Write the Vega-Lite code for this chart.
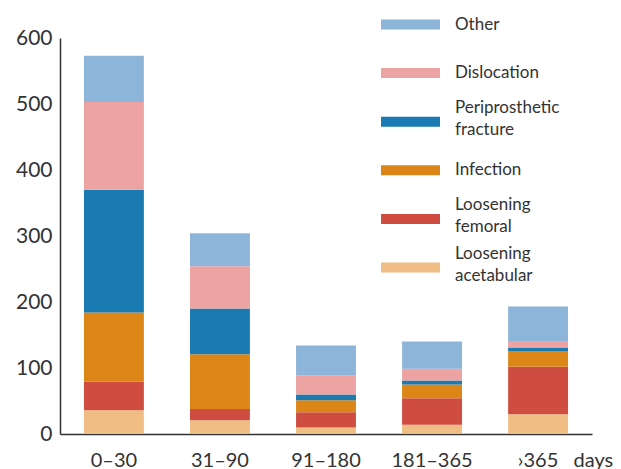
{
  "$schema": "https://vega.github.io/schema/vega-lite/v6.json",
  "width": 532,
  "height": 396,
  "autosize": {"type": "none"},
  "padding": {"left": 60, "top": 38, "right": 29, "bottom": 35},
  "background": "white",
  "config": {
    "view": {"stroke": null},
    "font": "Lato"
  },
  "data": {
    "values": [
      {"period": "0–30", "cause": "Loosening acetabular", "k": 1, "n": 36},
      {"period": "0–30", "cause": "Loosening femoral", "k": 2, "n": 43},
      {"period": "0–30", "cause": "Infection", "k": 3, "n": 105},
      {"period": "0–30", "cause": "Periprosthetic fracture", "k": 4, "n": 186},
      {"period": "0–30", "cause": "Dislocation", "k": 5, "n": 133},
      {"period": "0–30", "cause": "Other", "k": 6, "n": 70},
      {"period": "31–90", "cause": "Loosening acetabular", "k": 1, "n": 21},
      {"period": "31–90", "cause": "Loosening femoral", "k": 2, "n": 17},
      {"period": "31–90", "cause": "Infection", "k": 3, "n": 83},
      {"period": "31–90", "cause": "Periprosthetic fracture", "k": 4, "n": 69},
      {"period": "31–90", "cause": "Dislocation", "k": 5, "n": 64},
      {"period": "31–90", "cause": "Other", "k": 6, "n": 50},
      {"period": "91–180", "cause": "Loosening acetabular", "k": 1, "n": 10},
      {"period": "91–180", "cause": "Loosening femoral", "k": 2, "n": 23},
      {"period": "91–180", "cause": "Infection", "k": 3, "n": 18},
      {"period": "91–180", "cause": "Periprosthetic fracture", "k": 4, "n": 9},
      {"period": "91–180", "cause": "Dislocation", "k": 5, "n": 29},
      {"period": "91–180", "cause": "Other", "k": 6, "n": 45},
      {"period": "181–365", "cause": "Loosening acetabular", "k": 1, "n": 14},
      {"period": "181–365", "cause": "Loosening femoral", "k": 2, "n": 40},
      {"period": "181–365", "cause": "Infection", "k": 3, "n": 21},
      {"period": "181–365", "cause": "Periprosthetic fracture", "k": 4, "n": 6},
      {"period": "181–365", "cause": "Dislocation", "k": 5, "n": 18},
      {"period": "181–365", "cause": "Other", "k": 6, "n": 41},
      {"period": "›365", "cause": "Loosening acetabular", "k": 1, "n": 30},
      {"period": "›365", "cause": "Loosening femoral", "k": 2, "n": 72},
      {"period": "›365", "cause": "Infection", "k": 3, "n": 23},
      {"period": "›365", "cause": "Periprosthetic fracture", "k": 4, "n": 6},
      {"period": "›365", "cause": "Dislocation", "k": 5, "n": 10},
      {"period": "›365", "cause": "Other", "k": 6, "n": 52}
    ]
  },
  "mark": {"type": "bar"},
  "encoding": {
    "x": {
      "field": "period",
      "type": "nominal",
      "sort": ["0–30", "31–90", "91–180", "181–365", "›365"],
      "scale": {"paddingInner": 0.435, "paddingOuter": 0.226},
      "axis": {
        "title": "days",
        "titleX": 513,
        "titleY": 32,
        "titleAlign": "left",
        "titleBaseline": "alphabetic",
        "titleFontSize": 20,
        "titleFontWeight": "normal",
        "titleColor": "#333333",
        "labelAngle": 0,
        "labelFontSize": 20,
        "labelColor": "#333333",
        "labelPadding": 16,
        "ticks": false,
        "domainColor": "#333333",
        "domainWidth": 1.5
      }
    },
    "y": {
      "field": "n",
      "type": "quantitative",
      "stack": "zero",
      "scale": {"domain": [0, 600], "nice": false},
      "axis": {
        "title": null,
        "values": [0, 100, 200, 300, 400, 500, 600],
        "grid": false,
        "ticks": false,
        "labelFontSize": 21,
        "labelColor": "#333333",
        "labelPadding": 8,
        "domainColor": "#333333",
        "domainWidth": 1.5
      }
    },
    "order": {"field": "k", "type": "quantitative", "sort": "ascending"},
    "color": {
      "field": "cause",
      "type": "nominal",
      "scale": {
        "domain": ["Other", "Dislocation", "Periprosthetic fracture", "Infection", "Loosening femoral", "Loosening acetabular"],
        "range": ["#8db5d9", "#eca3a2", "#1a7ab2", "#dd8618", "#cf4d40", "#f0be85"]
      },
      "legend": {
        "title": null,
        "orient": "none",
        "legendX": 321,
        "legendY": -43,
        "padding": 0,
        "symbolType": "M-1,-0.17L1,-0.17L1,0.17L-1,0.17Z",
        "symbolSize": 3481,
        "symbolStrokeWidth": 0,
        "symbolOpacity": 1,
        "labelFontSize": 17,
        "labelColor": "#333333",
        "labelOffset": 15,
        "labelLimit": 200,
        "labelExpr": "datum.label == 'Periprosthetic fracture' ? ['Periprosthetic', 'fracture'] : datum.label == 'Loosening femoral' ? ['Loosening', 'femoral'] : datum.label == 'Loosening acetabular' ? ['Loosening', 'acetabular'] : datum.label",
        "gridAlign": "all",
        "rowPadding": 2.6,
        "encode": {
          "labels": {
            "update": {
              "lineHeight": {"value": 22},
              "dy": {"signal": "indexof(['Periprosthetic fracture', 'Loosening femoral', 'Loosening acetabular'], datum.value) >= 0 ? -14 : 0"}
            }
          }
        }
      }
    }
  }
}
